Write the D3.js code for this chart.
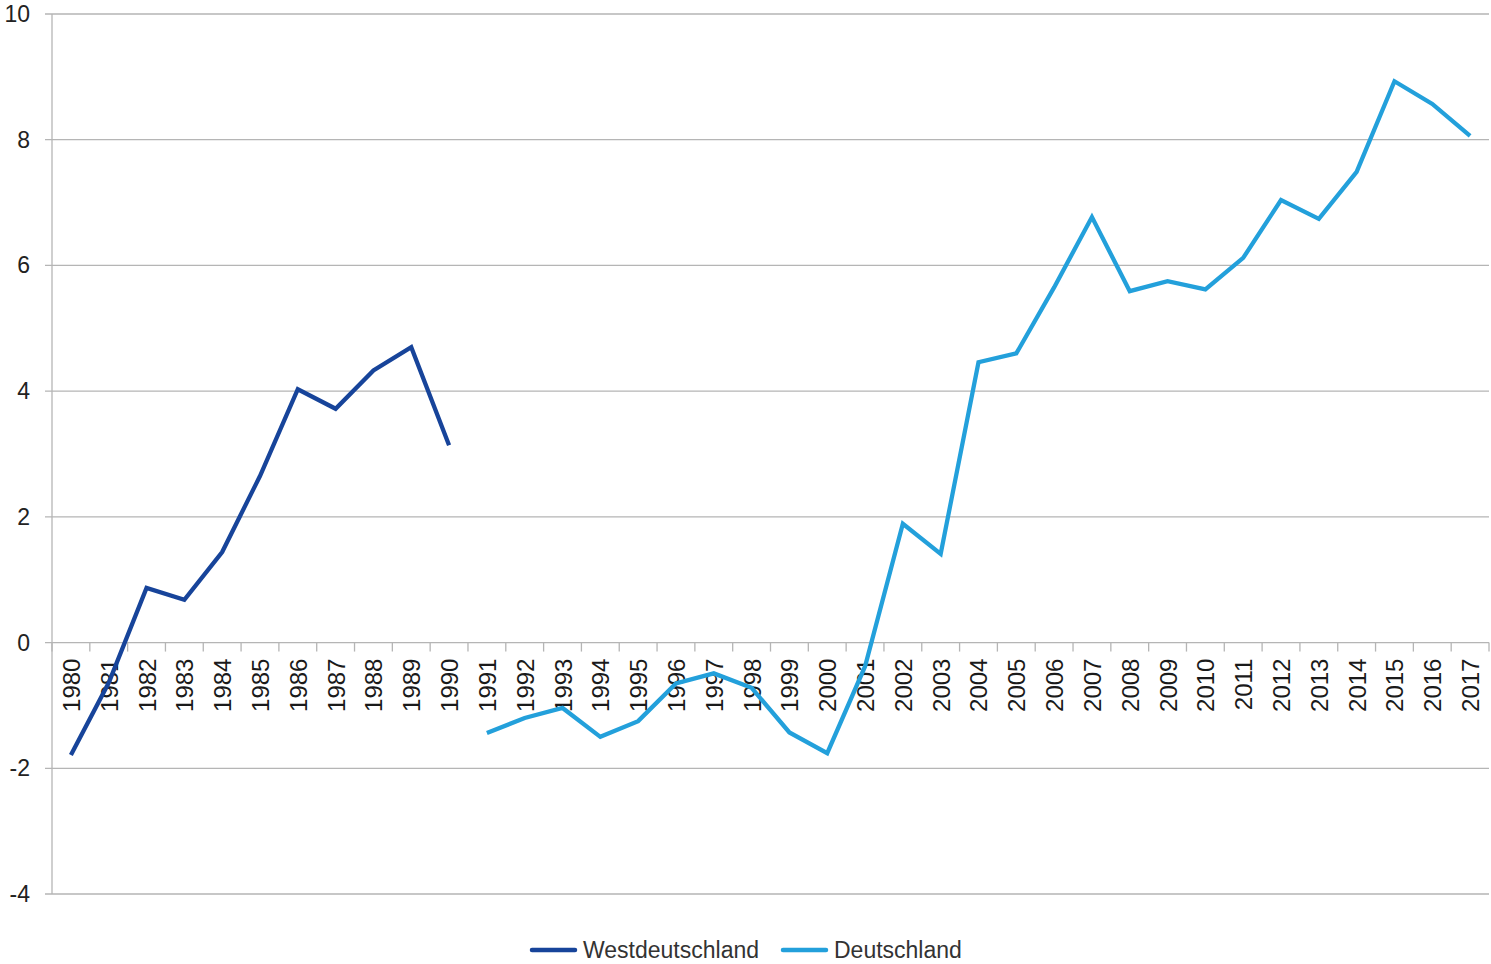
<!DOCTYPE html>
<html><head><meta charset="utf-8">
<script src="https://cdn.jsdelivr.net/npm/d3@7/dist/d3.min.js"></script>
<style>body{margin:0;background:#fff}</style>
</head><body>
<svg id="c" width="1491" height="964"></svg>
<script>
const years = d3.range(1980, 2018).map(String);
const westYears = ["1980","1981","1982","1983","1984","1985","1986","1987","1988","1989","1990"];
const westValues = [-1.79,-0.64,0.87,0.68,1.44,2.65,4.03,3.72,4.33,4.70,3.14];
const deYears = d3.range(1991, 2018).map(String);
const deValues = [-1.44,-1.20,-1.04,-1.50,-1.25,-0.65,-0.49,-0.72,-1.43,-1.76,-0.38,1.89,1.41,4.46,4.60,5.65,6.77,5.59,5.75,5.62,6.12,7.04,6.74,7.49,8.93,8.57,8.06];
const yTicks = [-4,-2,0,2,4,6,8,10];

(function(){
const svg = d3.select("#c");
const mL = 52, mR = 1489, mT = 14, mB = 894;
const x = d3.scaleBand().domain(years).range([mL, mR]);
const y = d3.scaleLinear().domain([-4, 10]).range([mB, mT]);

svg.append("g").selectAll("line").data(yTicks).join("line")
  .attr("x1", mL - 7).attr("x2", mR)
  .attr("y1", d => y(d)).attr("y2", d => y(d))
  .attr("stroke", "#b5b5b5").attr("stroke-width", 1.3);
svg.append("line").attr("x1", mL).attr("x2", mL).attr("y1", mT).attr("y2", mB)
  .attr("stroke", "#b5b5b5").attr("stroke-width", 1.3);
svg.append("g").selectAll("text").data(yTicks).join("text")
  .attr("x", 30).attr("y", d => y(d)).attr("dy", "0.35em")
  .attr("text-anchor", "end")
  .attr("font-family", "'Liberation Sans', Arial, sans-serif").attr("font-size", 23)
  .attr("fill", "#222").text(d => d);

const boundaries = years.map(d => x(d)).concat([mR]);
svg.append("g").selectAll("line").data(boundaries).join("line")
  .attr("x1", d => d).attr("x2", d => d).attr("y1", y(0)).attr("y2", y(0) + 9)
  .attr("stroke", "#b5b5b5").attr("stroke-width", 1.3);
svg.append("g").selectAll("text").data(years).join("text")
  .attr("transform", d => `translate(${x(d) + x.bandwidth()/2 + 9},${y(0) + 16}) rotate(-90)`)
  .attr("text-anchor", "end")
  .attr("font-family", "'Liberation Sans', Arial, sans-serif").attr("font-size", 24)
  .attr("fill", "#1a1a1a").text(d => d);

const line = d3.line().x(d => x(d[0]) + x.bandwidth()/2).y(d => y(d[1]));
svg.append("path").datum(d3.zip(westYears, westValues)).attr("d", line)
  .attr("fill", "none").attr("stroke", "#17449a").attr("stroke-width", 4.3);
svg.append("path").datum(d3.zip(deYears, deValues)).attr("d", line)
  .attr("fill", "none").attr("stroke", "#23a0db").attr("stroke-width", 4.3);

const legend = [["Westdeutschland", "#17449a", 532], ["Deutschland", "#23a0db", 783]];
const lg = svg.append("g");
legend.forEach(([name, col, lx]) => {
  lg.append("line").attr("x1", lx).attr("x2", lx + 43).attr("y1", 950).attr("y2", 950)
    .attr("stroke", col).attr("stroke-width", 4.5).attr("stroke-linecap", "round");
  lg.append("text").attr("x", lx + 51).attr("y", 950).attr("dy", "0.35em")
    .attr("font-family", "'Liberation Sans', Arial, sans-serif").attr("font-size", 23)
    .attr("fill", "#333").text(name);
});
})();
</script>
</body></html>
